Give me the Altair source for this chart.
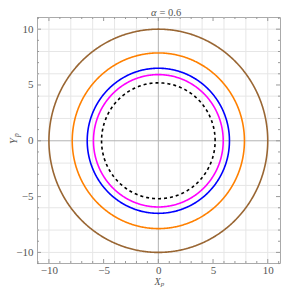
import altair as alt
import numpy as np
import pandas as pd

# data: shadow radii for alpha = 0.6
series = ["brown", "orange", "blue", "magenta", "black"]
radii = [10.0, 7.87, 6.5, 5.93, 5.19]
colors = ["#996633", "#FF8000", "#0000FF", "#FF00FF", "#000000"]
dashes = [[1, 0], [1, 0], [1, 0], [1, 0], [3, 3]]

major_ticks = [-10, -5, 0, 5, 10]
minor_ticks = [v for v in range(-11, 12) if v % 5 != 0]
grid_vals = [-10, -8, -6, -4, -2, 2, 4, 6, 8, 10]

XDOM = [-11.09, 11.12]
YDOM = [-10.95, 11.09]
W, H = 243, 246
PT, PL, PR, PB = 9, 29, 1, 25

theta = np.linspace(0, 2 * np.pi, 361)
rows = []
for s, r in zip(series, radii):
    for i, t in enumerate(theta):
        rows.append({"s": s, "i": i, "x": r * np.cos(t), "y": r * np.sin(t)})
df = pd.DataFrame(rows)

xs = alt.Scale(domain=XDOM, nice=False, zero=False)
ys = alt.Scale(domain=YDOM, nice=False, zero=False)

serif = "Liberation Serif"
lab = "#555555"
lblexpr = "replace(datum.label, '-', '\u2212 ')"

base_axes = alt.Chart(pd.DataFrame({"x": [0.0], "y": [0.0]})).mark_point(opacity=0).encode(
    x=alt.X("x:Q", scale=xs, axis=alt.Axis(values=major_ticks, ticks=False, domain=False, grid=False,
                                           title=None, labelFont=serif, labelFontSize=11, labelColor=lab,
                                           labelPadding=1, labelExpr=lblexpr)),
    y=alt.Y("y:Q", scale=ys, axis=alt.Axis(values=major_ticks, ticks=False, domain=False, grid=False,
                                           title=None, labelFont=serif, labelFontSize=11, labelColor=lab,
                                           labelPadding=4, labelExpr=lblexpr)),
)

gdf = pd.DataFrame({"v": grid_vals})
gridx = alt.Chart(gdf).mark_rule(color="#e6e6e6", strokeWidth=1).encode(x=alt.X("v:Q", scale=xs))
gridy = alt.Chart(gdf).mark_rule(color="#e6e6e6", strokeWidth=1).encode(y=alt.Y("v:Q", scale=ys))
zdf = pd.DataFrame({"v": [0]})
zx = alt.Chart(zdf).mark_rule(color="#b3b3b3", strokeWidth=1).encode(x=alt.X("v:Q", scale=xs))
zy = alt.Chart(zdf).mark_rule(color="#b3b3b3", strokeWidth=1).encode(y=alt.Y("v:Q", scale=ys))

tick_layers = []
for vals, ln in [(major_ticks, 4), (minor_ticks, 2)]:
    tdf = pd.DataFrame({"v": vals})
    c = alt.Chart(tdf).mark_rule(color="#999999", strokeWidth=1)
    tick_layers += [
        c.encode(x=alt.X("v:Q", scale=xs), y=alt.value(H), y2=alt.value(H - ln)),
        c.encode(x=alt.X("v:Q", scale=xs), y=alt.value(0), y2=alt.value(ln)),
        c.encode(y=alt.Y("v:Q", scale=ys), x=alt.value(0), x2=alt.value(ln)),
        c.encode(y=alt.Y("v:Q", scale=ys), x=alt.value(W), x2=alt.value(W - ln)),
    ]

curves = []
for s, col, d in zip(series, colors, dashes):
    curves.append(
        alt.Chart(df[df.s == s]).mark_line(color=col, strokeWidth=1.6, strokeDash=d).encode(
            x=alt.X("x:Q", scale=xs), y=alt.Y("y:Q", scale=ys), order="i:Q"
        )
    )

def txt(text, x, y, size, italic=True, angle=0, baseline="middle", align="center"):
    kw = dict(text=text, font=serif, fontSize=size, color=lab, baseline=baseline, align=align)
    if italic:
        kw["fontStyle"] = "italic"
    if angle:
        kw["angle"] = angle
    return alt.Chart(pd.DataFrame({"a": [0]})).mark_text(**kw).encode(x=alt.value(x), y=alt.value(y))

# page coords -> plot-group coords
def px(x):
    return x - 8 - PL

def py(y):
    return y - 8 - PT

cx = px(8 + PL + W / 2)
labels = [
    txt("\u03b1", cx - 2, py(16), 10.5, baseline="alphabetic", align="right"),
    txt("= 0.6", cx + 1, py(16), 10.5, italic=False, baseline="alphabetic", align="left"),
    txt("X", cx - 1, py(281.5), 10),
    txt("p", cx + 4, py(284), 7),
    txt("Y", px(14), py(141), 10.5, angle=270),
    txt("p", px(17), py(135), 7.5, angle=270),
]

chart = alt.layer(gridx, gridy, zx, zy, *tick_layers, *curves, base_axes, *labels).properties(
    width=W, height=H,
    autosize=alt.AutoSizeParams(type="none"),
    padding={"left": PL, "top": PT, "right": PR, "bottom": PB},
).configure_view(stroke="#aaaaaa", strokeWidth=1)

chart.save("out.html", embed_options={"renderer": "svg", "actions": False})
